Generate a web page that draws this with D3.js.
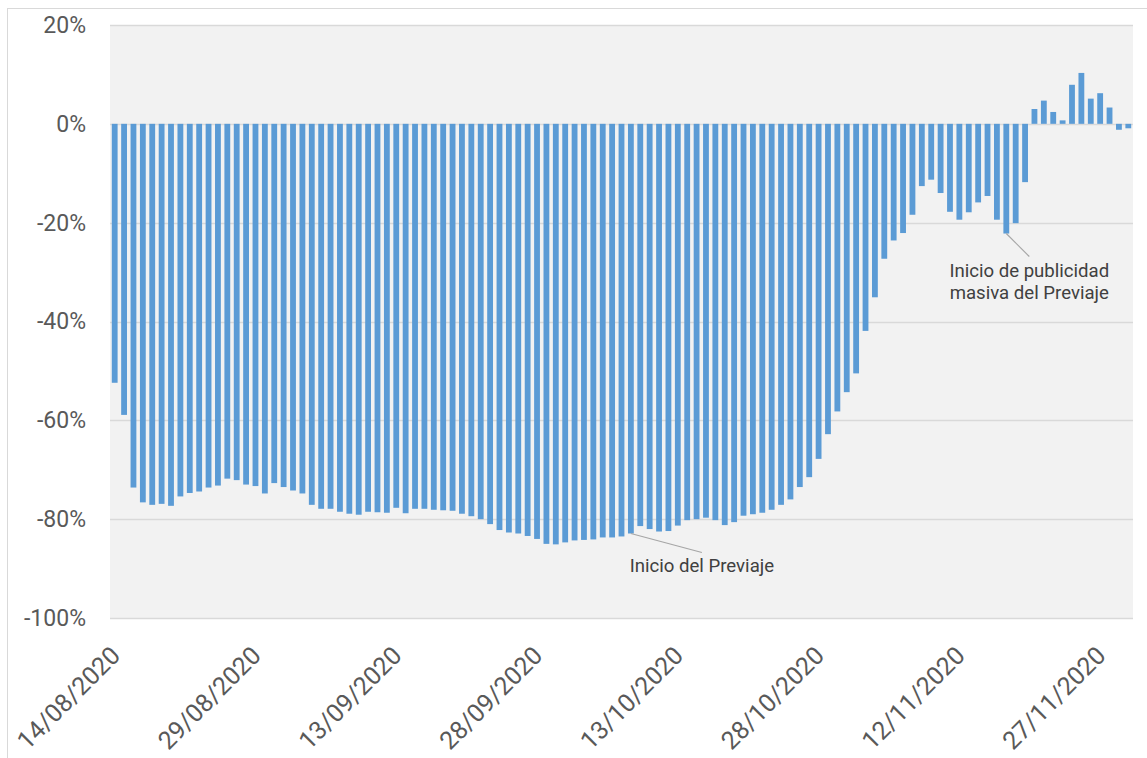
<!DOCTYPE html>
<html>
<head>
<meta charset="utf-8">
<script src="https://cdn.jsdelivr.net/npm/d3@7"></script>
<style>
  body { margin: 0; background: #fff; }
  svg { display: block; }
</style>
</head>
<body>
<svg id="chart" width="1147" height="758"></svg>
<script>
// daily variation vs. last year, 14/08/2020 - 30/11/2020 (%)
const startDay = "14/08/2020";
const values = [
  -52.4, -58.9, -73.6, -76.6, -77.1, -76.9, -77.3, -75.4, -74.7, -74.4,
  -73.6, -73.2, -71.8, -72.1, -73.0, -73.3, -74.8, -72.7, -73.5, -74.2,
  -74.8, -77.1, -77.9, -77.9, -78.5, -78.9, -79.1, -78.5, -78.6, -78.7,
  -77.7, -78.8, -77.9, -77.9, -78.1, -78.2, -78.3, -78.9, -79.4, -80.0,
  -81.0, -82.2, -82.7, -82.9, -83.4, -84.0, -85.0, -85.1, -84.7, -84.3,
  -84.2, -84.1, -83.7, -83.7, -83.5, -82.9, -81.4, -82.0, -82.5, -82.4,
  -81.3, -80.2, -80.0, -79.7, -80.2, -81.2, -80.6, -79.3, -79.0, -78.7,
  -78.1, -77.1, -76.0, -73.5, -71.5, -67.8, -62.8, -58.2, -54.3, -50.5,
  -41.9, -35.1, -27.3, -23.6, -22.1, -18.4, -12.6, -11.3, -14.0, -17.8,
  -19.4, -17.9, -15.9, -14.6, -19.4, -22.2, -20.1, -11.8, 3.0, 4.7,
  2.4, 0.7, 7.9, 10.3, 5.1, 6.2, 3.3, -1.2, -0.9
];
const xTickLabels = ["14/08/2020", "29/08/2020", "13/09/2020", "28/09/2020",
                     "13/10/2020", "28/10/2020", "12/11/2020", "27/11/2020"];
const yTicks = [20, 0, -20, -40, -60, -80, -100];
const notes = [
  { day: "08/10/2020", lines: ["Inicio del Previaje"], dx: 71, dy: 19 },
  { day: "17/11/2020", lines: ["Inicio de publicidad", "masiva del Previaje"], dx: 23, dy: 23 }
];

const parse = d3.timeParse("%d/%m/%Y");
const fmt = d3.timeFormat("%d/%m/%Y");
const t0 = parse(startDay);
const days = values.map((v, i) => fmt(d3.timeDay.offset(t0, i)));
const data = days.map((d, i) => ({ day: d, value: values[i] }));

const svg = d3.select("svg#chart");

// outer chart border
svg.append("rect")
  .attr("x", 7.5).attr("y", 8.5)
  .attr("width", 1160).attr("height", 760)
  .attr("fill", "#fff")
  .attr("stroke", "#d9d9d9");

const plotL = 110, plotR = 1133, plotT = 25, plotB = 618;

const x = d3.scaleBand()
  .domain(days)
  .range([plotL, plotR])
  .paddingInner(0.38)
  .paddingOuter(0.19);

const y = d3.scaleLinear()
  .domain([-100, 20])
  .range([plotB, plotT]);

// plot background
svg.append("rect")
  .attr("x", plotL).attr("y", plotT)
  .attr("width", plotR - plotL).attr("height", plotB - plotT)
  .attr("fill", "#f2f2f2");

// gridlines
svg.append("g")
  .selectAll("line")
  .data(yTicks)
  .join("line")
  .attr("x1", plotL).attr("x2", plotR)
  .attr("y1", d => Math.round(y(d)) + 0.5)
  .attr("y2", d => Math.round(y(d)) + 0.5)
  .attr("stroke", "#d9d9d9")
  .attr("stroke-width", 1.3);

// bars
svg.append("g")
  .selectAll("rect")
  .data(data)
  .join("rect")
  .attr("x", d => x(d.day))
  .attr("width", x.bandwidth())
  .attr("y", d => y(Math.max(0, d.value)))
  .attr("height", d => Math.abs(y(d.value) - y(0)))
  .attr("fill", "#5b9bd5");

// y axis
const yAxis = svg.append("g")
  .attr("transform", `translate(${plotL},0)`)
  .call(d3.axisLeft(y).tickValues(yTicks).tickSize(0).tickPadding(24)
    .tickFormat(d => d + "%"));
yAxis.select(".domain").remove();
yAxis.selectAll("text")
  .attr("font-family", "Roboto, sans-serif")
  .attr("font-size", 23)
  .attr("fill", "#595959");

// x axis
const xAxis = svg.append("g")
  .attr("transform", `translate(0,${plotB})`)
  .call(d3.axisBottom(x).tickValues(xTickLabels).tickSize(0));
xAxis.select(".domain").remove();
xAxis.selectAll("text")
  .attr("font-family", "Roboto, sans-serif")
  .attr("font-size", 25)
  .attr("fill", "#595959")
  .attr("text-anchor", "end")
  .attr("y", 0)
  .attr("dy", 0)
  .attr("transform", "translate(7,39) rotate(-45)");

// annotations
notes.forEach(n => {
  const v = data.find(d => d.day === n.day).value;
  const x0 = x(n.day) + x.bandwidth() / 2;
  const y0 = y(v);
  const x1 = x0 + n.dx, y1 = y0 + n.dy;
  svg.append("line")
    .attr("x1", x0).attr("y1", y0)
    .attr("x2", x1).attr("y2", y1)
    .attr("stroke", "#a6a6a6")
    .attr("stroke-width", 1.2);
  const t = svg.append("text")
    .attr("font-family", "Roboto, sans-serif")
    .attr("font-size", 18.6)
    .attr("fill", "#404040")
    .attr("text-anchor", "middle");
  n.lines.forEach((l, i) => {
    t.append("tspan")
      .attr("x", x1)
      .attr("y", y1 + 20 + i * 22)
      .text(l);
  });
});
</script>
</body>
</html>
